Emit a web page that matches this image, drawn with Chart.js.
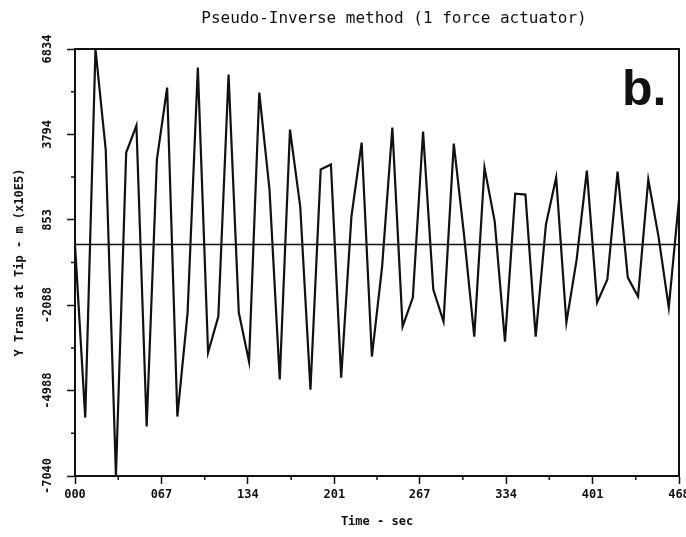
<!DOCTYPE html>
<html>
<head>
<meta charset="utf-8">
<title>Pseudo-Inverse method</title>
<script src="https://cdn.jsdelivr.net/npm/chart.js@4.4.1/dist/chart.umd.min.js"></script>
<style>
  html, body { margin: 0; padding: 0; background: #fff; }
</style>
</head>
<body>
<canvas id="tipChart" width="686" height="537"></canvas>
<script>
const runTime = 4.68;
const tipValues = [
  0, -5958, 6735, 3272, -7970, 3168, 4098, -6268, 2927, 5407,
  -5924, -2342, 6096, -3720, -2480, 5855, -2342, -4029, 5235, 1894,
  -4649, 3961, 1309, -4994, 2583, 2755, -4581, 964, 3513, -3857,
  -758, 4029, -2824, -1825, 3892, -1550, -2652, 3478, 344, -3168,
  2652, 792, -3341, 1756, 1722, -3168, 689, 2307, -2686, -517,
  2549, -1998, -1205, 2514, -1137, -1791, 2239, 276, -2170, 1550
];
const xTicks = [0, 0.67, 1.34, 2.01, 2.67, 3.34, 4.01, 4.68];
const xTickLabels = ['000', '067', '134', '201', '267', '334', '401', '468'];
const yTicks = [6735, 3794, 853, -2088, -5029, -7970];
const yTickLabels = ['6834', '3794', '853', '-2088', '-4988', '-7040'];

const dt = runTime / (tipValues.length - 1);
const tipPoints = tipValues.map((v, i) => ({ x: i * dt, y: v }));
const zeroLine = [{ x: 0, y: 0 }, { x: runTime, y: 0 }];

const ink = '#111';
const tickFont = 'bold 12px "DejaVu Sans Mono", monospace';

// frame, minor ticks, rotated y labels, title and panel letter
const plotDecor = {
  id: 'plotDecor',
  afterDraw(chart) {
    const { ctx, chartArea: a, scales: { x, y } } = chart;
    ctx.save();
    ctx.strokeStyle = ink;
    ctx.lineWidth = 2;
    ctx.beginPath();
    ctx.moveTo(a.left, a.top);
    ctx.lineTo(a.right, a.top);
    ctx.lineTo(a.right, a.bottom);
    ctx.stroke();

    ctx.lineWidth = 1.5;
    ctx.beginPath();
    for (let i = 0; i < yTicks.length - 1; i++) {
      const py = y.getPixelForValue((yTicks[i] + yTicks[i + 1]) / 2);
      ctx.moveTo(a.left - 4, py);
      ctx.lineTo(a.left, py);
    }
    for (let i = 0; i < xTicks.length - 1; i++) {
      const px = x.getPixelForValue((xTicks[i] + xTicks[i + 1]) / 2);
      ctx.moveTo(px, a.bottom);
      ctx.lineTo(px, a.bottom + 4);
    }
    ctx.stroke();

    ctx.fillStyle = ink;
    ctx.font = tickFont;
    ctx.textAlign = 'center';
    ctx.textBaseline = 'middle';
    yTicks.forEach((v, i) => {
      ctx.save();
      ctx.translate(48, y.getPixelForValue(v));
      ctx.rotate(-Math.PI / 2);
      ctx.fillText(yTickLabels[i], 0, 0);
      ctx.restore();
    });

    ctx.font = '16px "DejaVu Sans Mono", monospace';
    ctx.fillText('Pseudo-Inverse method (1 force actuator)', 394, 19);

    ctx.font = 'bold 50px "Liberation Sans", Arial, sans-serif';
    ctx.textAlign = 'left';
    ctx.textBaseline = 'alphabetic';
    ctx.fillText('b.', 622, 105);
    ctx.restore();
  }
};

new Chart(document.getElementById('tipChart'), {
  type: 'line',
  data: {
    datasets: [
      {
        data: tipPoints,
        borderColor: ink,
        borderWidth: 2.2,
        pointRadius: 0,
        tension: 0
      },
      {
        data: zeroLine,
        borderColor: ink,
        borderWidth: 1.6,
        pointRadius: 0
      }
    ]
  },
  options: {
    responsive: false,
    animation: false,
    events: [],
    layout: { padding: { top: 49, right: 7, left: 0, bottom: 0 } },
    plugins: {
      legend: { display: false },
      tooltip: { enabled: false }
    },
    scales: {
      x: {
        type: 'linear',
        min: 0,
        max: runTime,
        afterFit: s => { s.height = 61; s.paddingLeft = 0; s.paddingRight = 0; },
        afterBuildTicks: s => { s.ticks = xTicks.map(v => ({ value: v })); },
        border: { color: ink, width: 2 },
        grid: { drawOnChartArea: false, color: ink, tickLength: 8, tickWidth: 1.5 },
        ticks: {
          color: ink,
          font: { family: '"DejaVu Sans Mono", monospace', size: 12, weight: 'bold' },
          padding: 4,
          maxRotation: 0,
          autoSkip: false,
          callback: (v, i) => xTickLabels[i]
        },
        title: {
          display: true,
          text: 'Time - sec',
          color: ink,
          font: { family: '"DejaVu Sans Mono", monospace', size: 12, weight: 'bold' },
          padding: { top: 0, bottom: 8 }
        }
      },
      y: {
        min: yTicks[yTicks.length - 1],
        max: yTicks[0],
        afterFit: s => { s.width = 75; s.paddingTop = 0; s.paddingBottom = 0; },
        afterBuildTicks: s => { s.ticks = yTicks.map(v => ({ value: v })); },
        border: { color: ink, width: 2 },
        grid: { drawOnChartArea: false, color: ink, tickLength: 8, tickWidth: 1.5 },
        ticks: { display: false },
        title: {
          display: true,
          text: 'Y Trans at Tip - m (x10E5)',
          color: ink,
          font: { family: '"DejaVu Sans Mono", monospace', size: 12, weight: 'bold' },
          padding: { top: 13, bottom: 0 }
        }
      }
    }
  },
  plugins: [plotDecor]
});
</script>
</body>
</html>
